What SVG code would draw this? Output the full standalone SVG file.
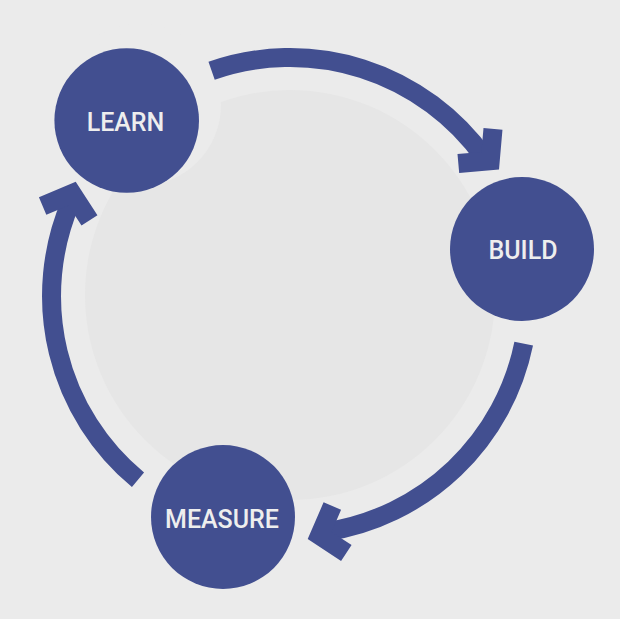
<svg xmlns="http://www.w3.org/2000/svg" xmlns:xlink="http://www.w3.org/1999/xlink" width="620" height="619" viewBox="0 0 620 619">
  <style>
    .bg { fill: #ebebeb; }
    .inner { fill: #e6e6e6; }
    .halo { fill: #ebebeb; }
    .node { fill: #424f90; }
    .label { fill: #eeeeee; font-family: Roboto, "Liberation Sans", sans-serif; font-size: 25px; font-weight: 500; text-anchor: middle; }
    .shaft { fill: none; stroke: #424f90; stroke-width: 19; stroke-linecap: butt; }
    .head { fill: #424f90; }
  </style>
  <defs>
    <polygon id="chevron" points="0,0 -25.7,30.6 -40.3,18.4 -24.9,0 -40.3,-18.4 -25.7,-30.6"/>
  </defs>
  <rect class="bg" x="0" y="0" width="620" height="619"/>
  <circle class="inner" cx="290" cy="295" r="205"/>
  <circle class="halo" cx="140" cy="105" r="81"/>
  <g id="connectors">
    <g id="learn-to-build">
      <path class="shaft" d="M211.6,70.8 A238.5,238.5 0 0 1 484.2,157.5"/>
      <use class="head" xlink:href="#chevron" href="#chevron" transform="translate(499,169.5) rotate(45)"/>
    </g>
    <g id="build-to-measure">
      <path class="shaft" d="M523.7,343.6 A238.5,238.5 0 0 1 326.5,531.7"/>
      <use class="head" xlink:href="#chevron" href="#chevron" transform="translate(307.7,539) rotate(163.4)"/>
    </g>
    <g id="measure-to-learn">
      <path class="shaft" d="M138,479.8 A238.5,238.5 0 0 1 70.8,202.1"/>
      <use class="head" xlink:href="#chevron" href="#chevron" transform="translate(75.7,181.7) rotate(-73)"/>
    </g>
  </g>
  <g id="node-learn">
    <circle class="node" cx="126.7" cy="120.5" r="72.3"/>
    <text class="label" x="125.5" y="130.5">LEARN</text>
  </g>
  <g id="node-build">
    <circle class="node" cx="522" cy="249" r="72"/>
    <text class="label" x="523" y="259">BUILD</text>
  </g>
  <g id="node-measure">
    <circle class="node" cx="223" cy="517" r="72"/>
    <text class="label" x="222" y="527.5">MEASURE</text>
  </g>
</svg>
